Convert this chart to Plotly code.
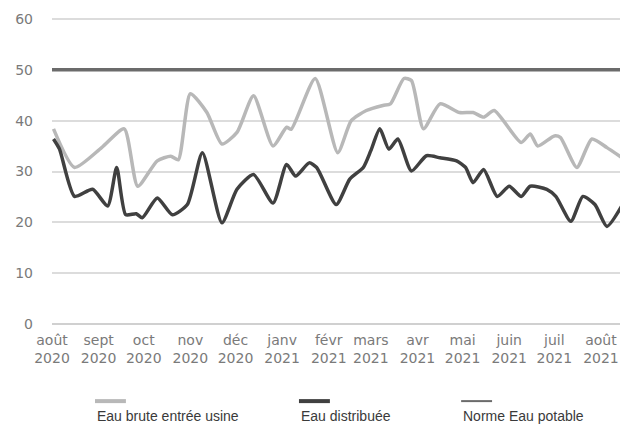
import plotly.graph_objects as go

# ---- data ----
brute_dates = ["2020-08-02", "2020-08-16", "2020-09-03", "2020-09-18", "2020-09-27",
               "2020-10-10", "2020-10-19", "2020-10-24", "2020-11-01", "2020-11-12",
               "2020-11-22", "2020-12-02", "2020-12-13", "2020-12-26", "2021-01-04",
               "2021-01-07", "2021-01-23", "2021-02-07", "2021-02-16", "2021-02-26",
               "2021-03-09", "2021-03-14", "2021-03-23", "2021-03-28", "2021-04-05",
               "2021-04-16", "2021-04-29", "2021-05-08", "2021-05-15", "2021-05-22",
               "2021-06-09", "2021-06-15", "2021-06-20", "2021-07-01", "2021-07-05",
               "2021-07-16", "2021-07-26", "2021-08-05", "2021-08-15"]
brute_values = [38.4, 30.8, 34.7, 38.4, 27.1,
                32.1, 33.0, 32.3, 45.3, 41.6,
                35.4, 37.7, 44.9, 35.0, 38.7,
                38.3, 48.3, 33.7, 40.0, 42.0,
                43.0, 43.3, 48.3, 47.9, 38.4,
                43.3, 41.6, 41.6, 40.7, 42.0,
                35.7, 37.4, 35.0, 37.0, 36.7,
                30.8, 36.4, 34.7, 32.7]

distrib_dates = ["2020-08-02", "2020-08-06", "2020-08-16", "2020-08-28", "2020-09-07",
                 "2020-09-13", "2020-09-19", "2020-09-26", "2020-09-30", "2020-10-10",
                 "2020-10-20", "2020-10-30", "2020-11-09", "2020-11-22", "2020-12-02",
                 "2020-12-13", "2020-12-26", "2021-01-04", "2021-01-10", "2021-01-19",
                 "2021-01-24", "2021-02-06", "2021-02-15", "2021-02-24", "2021-03-01",
                 "2021-03-07", "2021-03-13", "2021-03-19", "2021-03-28", "2021-04-07",
                 "2021-04-16", "2021-04-27", "2021-05-03", "2021-05-08", "2021-05-15",
                 "2021-05-24", "2021-06-01", "2021-06-09", "2021-06-15", "2021-06-26",
                 "2021-07-02", "2021-07-12", "2021-07-20", "2021-07-28", "2021-08-05",
                 "2021-08-16"]
distrib_values = [36.4, 34.4, 25.1, 26.5, 23.2,
                  30.8, 21.5, 21.7, 20.9, 24.8,
                  21.5, 23.5, 33.7, 19.9, 26.5,
                  29.4, 23.8, 31.4, 29.1, 31.7,
                  30.8, 23.5, 28.5, 30.8, 34.1,
                  38.4, 34.4, 36.4, 30.1, 33.1,
                  32.7, 32.1, 30.8, 27.8, 30.4,
                  25.1, 27.1, 25.1, 27.1, 26.5,
                  25.1, 20.2, 25.1, 23.5, 19.2,
                  23.8]

norme_value = 50
period = ["2020-07-31", "2021-08-17"]

series_names = ["Eau brute entrée usine", "Eau distribuée", "Norme Eau potable"]
series_colors = ["#b8b8b8", "#404040", "#6b6b6b"]

tick_dates = ["2020-08-01", "2020-09-01", "2020-10-01", "2020-11-01", "2020-12-01",
              "2021-01-01", "2021-02-01", "2021-03-01", "2021-04-01", "2021-05-01",
              "2021-06-01", "2021-07-01", "2021-08-01"]
tick_labels = ["août<br>2020", "sept<br>2020", "oct<br>2020", "nov<br>2020", "déc<br>2020",
               "janv<br>2021", "févr<br>2021", "mars<br>2021", "avr<br>2021", "mai<br>2021",
               "juin<br>2021", "juil<br>2021", "août<br>2021"]

y_ticks = [0, 10, 20, 30, 40, 50, 60]

# ---- figure ----
fig = go.Figure()
fig.add_trace(go.Scatter(x=period, y=[norme_value] * len(period), mode="lines",
                         name=series_names[2],
                         line=dict(color=series_colors[2], width=3.5)))
fig.add_trace(go.Scatter(x=brute_dates, y=brute_values, mode="lines",
                         name=series_names[0],
                         line=dict(color=series_colors[0], width=3.5,
                                   shape="spline", smoothing=0.6)))
fig.add_trace(go.Scatter(x=distrib_dates, y=distrib_values, mode="lines",
                         name=series_names[1],
                         line=dict(color=series_colors[1], width=3.5,
                                   shape="spline", smoothing=0.6)))

# manual legend (sample line above label, as in the reference)
legend_x = [0.075, 0.431, 0.714]
legend_w = [0.054, 0.054, 0.054]
legend_lw = [4, 4, 2]
for i, name in enumerate(series_names):
    fig.add_shape(type="line", xref="paper", yref="paper",
                  x0=legend_x[i], x1=legend_x[i] + legend_w[i], y0=-0.252, y1=-0.252,
                  line=dict(color=series_colors[i], width=legend_lw[i]))
    fig.add_annotation(xref="paper", yref="paper", x=legend_x[i], y=-0.302,
                       xanchor="left", yanchor="middle", showarrow=False,
                       text=name,
                       font=dict(family="Liberation Sans, Arial", size=14, color="#3a3a3a"))

fig.update_layout(
    width=620, height=418,
    margin=dict(l=44, r=3, t=7, b=102),
    paper_bgcolor="white", plot_bgcolor="white",
    showlegend=False,
    font=dict(family="DejaVu Sans", size=14, color="#7a7a7a"),
)
fig.update_xaxes(
    type="date", range=["2020-08-01", "2021-08-17"],
    tickmode="array", tickvals=tick_dates, ticktext=tick_labels,
    showgrid=False, showline=False, zeroline=False,
    ticks="", ticklabelstandoff=6,
    tickfont=dict(family="DejaVu Sans", size=14, color="#7a7a7a"),
)
fig.update_yaxes(
    range=[0, 60.2], tickvals=y_ticks,
    showgrid=True, gridcolor="#dcdcdc", gridwidth=1.5,
    zeroline=True, zerolinecolor="#d0d0d0", zerolinewidth=1.5,
    showline=False, ticks="", ticklabelstandoff=18,
    ticklabeloverflow="allow",
    tickfont=dict(family="DejaVu Sans", size=14, color="#7a7a7a"),
)

fig.write_html("out.html")
